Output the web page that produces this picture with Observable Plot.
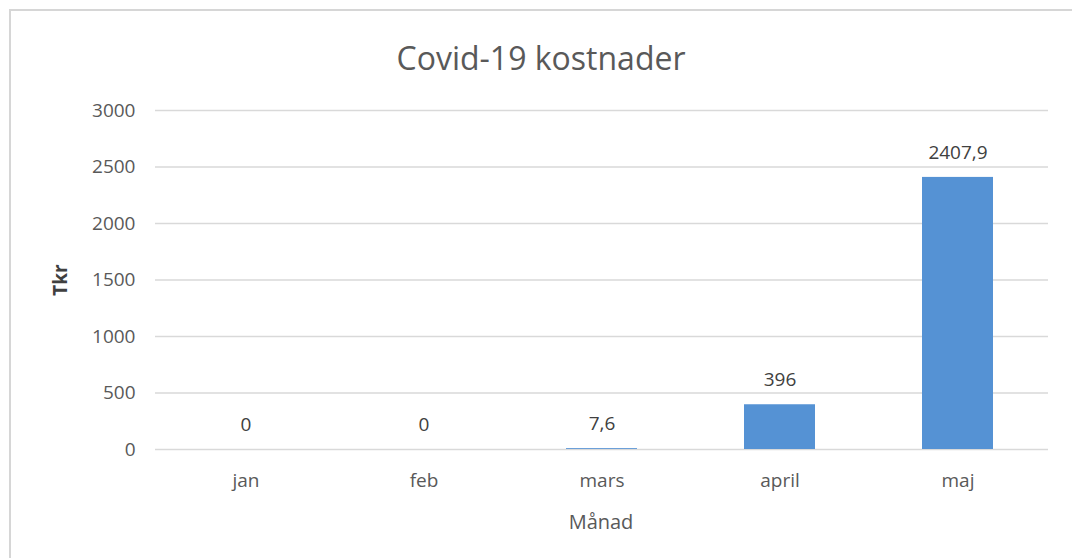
<!DOCTYPE html>
<html>
<head>
<meta charset="utf-8">
<script src="https://cdn.jsdelivr.net/npm/d3@7"></script>
<script src="https://cdn.jsdelivr.net/npm/@observablehq/plot@0.6"></script>
<style>
  html, body { margin: 0; padding: 0; background: #ffffff; }
  #wrap { position: relative; width: 1072px; height: 558px; overflow: hidden; font-family: "Open Sans", sans-serif; }
  #frame { position: absolute; left: 9px; top: 9px; width: 1080px; height: 580px; border: 2px solid #d6d6d6; box-sizing: border-box; }
  #title { position: absolute; left: 541px; top: 57px; transform: translate(-50%, -50%); white-space: nowrap; font-size: 32px; color: #595959; }
  #ylab { position: absolute; left: 60px; top: 280px; transform: translate(-50%, -50%) rotate(-90deg); font-size: 19px; font-weight: bold; color: #404040; }
  #xlab { position: absolute; left: 601px; top: 521px; transform: translate(-50%, -50%); font-size: 20px; color: #595959; }
  #chart { position: absolute; left: 0; top: 0; }
</style>
</head>
<body>
<div id="wrap">
  <div id="frame"></div>
  <div id="chart"></div>
  <div id="title">Covid-19 kostnader</div>
  <div id="ylab">Tkr</div>
  <div id="xlab">Månad</div>
</div>
<script>
const months = ["jan", "feb", "mars", "april", "maj"];
const costs = [0, 0, 7.6, 396, 2407.9];
const yTicks = [0, 500, 1000, 1500, 2000, 2500, 3000];

const data = months.map((m, i) => ({month: m, value: costs[i]}));
const fmt = v => String(v).replace(".", ",");

const chart = Plot.plot({
  width: 1072,
  height: 558,
  marginLeft: 155,
  marginRight: 24,
  marginTop: 110,
  marginBottom: 109,
  style: {fontFamily: "Open Sans, sans-serif", fontSize: "19px", color: "#595959", background: "transparent", overflow: "visible"},
  x: {domain: months, paddingInner: 0.6, paddingOuter: 0.3, label: null},
  y: {domain: [0, 3000], ticks: yTicks, label: null},
  marks: [
    Plot.gridY(yTicks, {stroke: "#d9d9d9", strokeOpacity: 1, strokeWidth: 1.6}),
    Plot.axisY(yTicks, {tickSize: 0, tickPadding: 20, fill: "#595959", label: null, fontSize: 19, tickFormat: d => String(d)}),
    Plot.axisX({tickSize: 0, tickPadding: 24, fill: "#595959", label: null, fontSize: 19}),
    Plot.barY(data, {x: "month", y: "value", fill: "#5592d4"}),
    Plot.text(data, {x: "month", y: "value", text: d => fmt(d.value), dy: -25, fill: "#404040", fontSize: 19})
  ]
});
document.getElementById("chart").appendChild(chart);
</script>
</body>
</html>
